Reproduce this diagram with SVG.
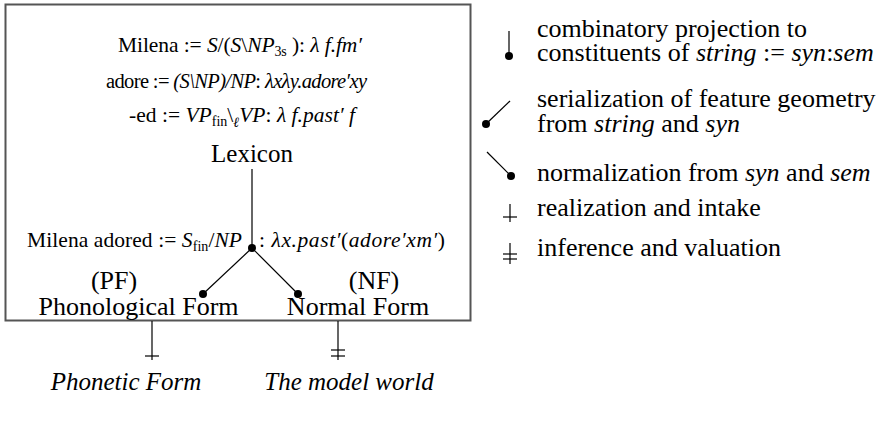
<svg xmlns="http://www.w3.org/2000/svg" width="887" height="422" viewBox="0 0 887 422">
  <style>
    text { font-family: "Liberation Serif", "Times New Roman", serif; fill: #000; }
    .f { font-size: 21.5px; }
    .lab { font-size: 25px; }
    .big { font-size: 26px; }
    .leg { font-size: 26px; }
    .i { font-style: italic; }
    .sub { font-size: 14px; }
    .frame { fill: none; stroke: #555; stroke-width: 2; }
    .gray { stroke: #666; stroke-width: 2; fill: none; }
    .thin { stroke: #000; stroke-width: 1.2; fill: none; }
    .dot { fill: #000; }
  </style>

  <!-- grammar frame -->
  <g id="grammar">
    <rect class="frame" x="5.5" y="4.5" width="465" height="316"/>
  </g>

  <!-- lexical entries -->
  <g id="lexicon">
    <text class="f" x="118" y="52" textLength="244">Milena := <tspan class="i">S</tspan>/(<tspan class="i">S</tspan>\<tspan class="i">NP</tspan><tspan class="sub" dy="4">3s</tspan><tspan dy="-4"> ): </tspan><tspan class="i">λ f.fm′</tspan></text>
    <text class="f" x="106" y="88" textLength="261" style="font-size:20.5px">adore := <tspan class="i">(S\NP)/NP</tspan>: <tspan class="i">λxλy.adore′xy</tspan></text>
    <text class="f" x="129" y="122" textLength="226">-ed := <tspan class="i">VP</tspan><tspan class="sub" dy="4">fin</tspan><tspan dy="-4">\</tspan><tspan class="sub i" dy="5">ℓ</tspan><tspan class="i" dy="-5">VP</tspan>: <tspan class="i">λ f.past′ f</tspan></text>
    <text class="lab" x="252" y="162" text-anchor="middle">Lexicon</text>
  </g>

  <!-- derived entry -->
  <g id="derivation">
    <text class="f" x="27" y="247" textLength="215">Milena adored := <tspan class="i">S</tspan><tspan class="sub" dy="4">fin</tspan><tspan dy="-4">/</tspan><tspan class="i">NP</tspan></text>
    <text class="f" x="259" y="247" textLength="186">: <tspan class="i">λx.past′</tspan>(<tspan class="i">adore′xm′</tspan>)</text>
  </g>

  <g id="pf">
    <text class="big" x="114" y="289" text-anchor="middle">(PF)</text>
    <text class="big" x="138.5" y="315" text-anchor="middle">Phonological Form</text>
  </g>

  <g id="nf">
    <text class="big" x="374" y="289" text-anchor="middle">(NF)</text>
    <text class="big" x="358" y="315" text-anchor="middle">Normal Form</text>
  </g>

  <g id="phonetic">
    <text class="lab i" x="126" y="390" text-anchor="middle">Phonetic Form</text>
  </g>

  <g id="model">
    <text class="lab i" x="349" y="390" text-anchor="middle">The model world</text>
  </g>

  <!-- connectors -->
  <g id="connectors">
    <line class="gray" x1="252" y1="169" x2="252" y2="248"/>
    <circle class="dot" cx="252" cy="248" r="4"/>
    <line class="thin" x1="252" y1="248" x2="203" y2="294"/>
    <line class="thin" x1="252" y1="248" x2="298" y2="294"/>
    <circle class="dot" cx="203" cy="294" r="4"/>
    <circle class="dot" cx="298" cy="294" r="4"/>
    <!-- realization -->
    <line class="thin" x1="152" y1="321" x2="152" y2="360"/>
    <line class="thin" x1="145" y1="356" x2="159" y2="356"/>
    <!-- inference -->
    <line class="thin" x1="338" y1="321" x2="338" y2="360"/>
    <line class="thin" x1="331" y1="350" x2="345" y2="350"/>
    <line class="thin" x1="331" y1="356" x2="345" y2="356"/>
  </g>

  <!-- key -->
  <g id="key">
    <line class="gray" x1="509" y1="31" x2="509" y2="55"/>
    <circle class="dot" cx="509" cy="56" r="4"/>
    <text class="leg" x="537" y="37">combinatory projection to</text>
    <text class="leg" x="537" y="61">constituents of <tspan class="i">string</tspan> := <tspan class="i">syn</tspan>:<tspan class="i">sem</tspan></text>

    <line class="thin" x1="486" y1="124" x2="510" y2="101"/>
    <circle class="dot" cx="486" cy="124" r="4"/>
    <text class="leg" x="537" y="107">serialization of feature geometry</text>
    <text class="leg" x="537" y="132">from <tspan class="i">string</tspan> and <tspan class="i">syn</tspan></text>

    <line class="thin" x1="487" y1="152" x2="511" y2="176"/>
    <circle class="dot" cx="511" cy="176" r="4"/>
    <text class="leg" x="537" y="181">normalization from <tspan class="i">syn</tspan> and <tspan class="i">sem</tspan></text>

    <line class="thin" x1="510" y1="204" x2="510" y2="222"/>
    <line class="thin" x1="503" y1="217" x2="517" y2="217"/>
    <text class="leg" x="537" y="216">realization and intake</text>

    <line class="thin" x1="510" y1="243" x2="510" y2="264"/>
    <line class="thin" x1="503" y1="254" x2="517" y2="254"/>
    <line class="thin" x1="503" y1="259" x2="517" y2="259"/>
    <text class="leg" x="537" y="256">inference and valuation</text>
  </g>
</svg>
